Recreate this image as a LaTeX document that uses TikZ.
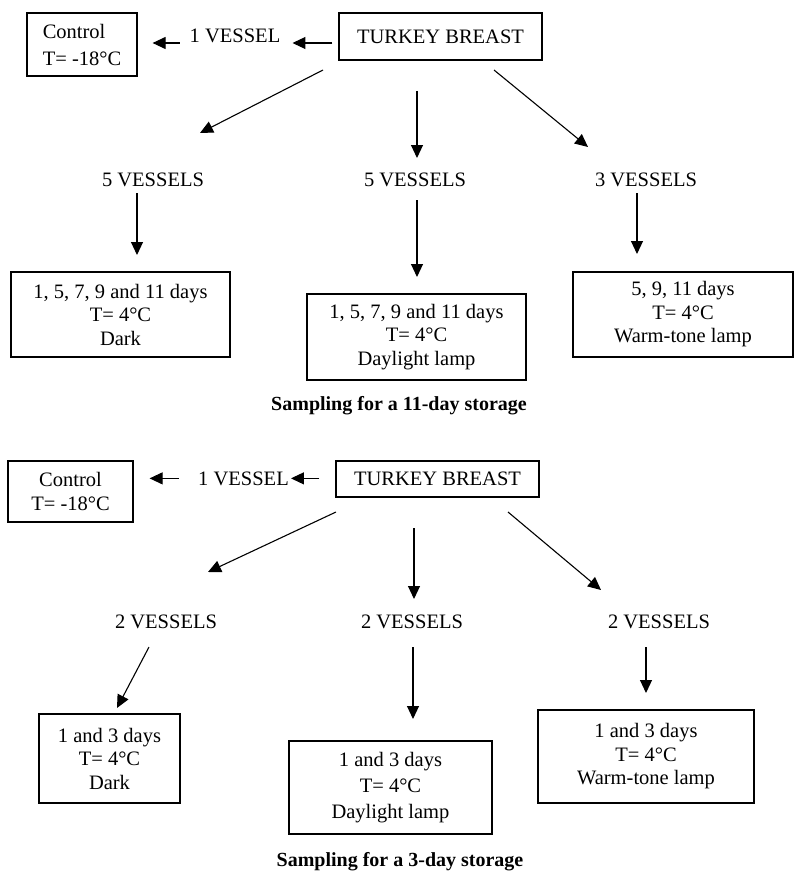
\documentclass[tikz,border=0pt]{standalone}
\usepackage{fontspec}
\setmainfont{Liberation Serif}
\usetikzlibrary{arrows.meta}
\usetikzlibrary{positioning}

\tikzset{
  box/.style = {draw, line width=1.2pt, align=center, inner sep=0pt},
  lbl/.style = {inner sep=0pt},
  arr/.style = {-{Triangle[length=13pt,width=12pt]}, line width=1.1pt},
  captxt/.style = {inner sep=0pt, font=\fontsize{20}{24}\bfseries\selectfont}
}

\begin{document}
\begin{tikzpicture}[x=1pt, y=-1pt, font=\fontsize{20.5}{23.5}\selectfont]
		\useasboundingbox (0,0) rectangle (796,880);
		% sampling for 11 days
		\node[box, minimum width=110pt, minimum height=63pt, align=left] (ctrlA) at (82,44.5) {Control\\[3.5pt]T= -18°C};
		\node[lbl, anchor=base] (vesA) at (235,43) {1 VESSEL};
		\node[box, minimum width=203pt, minimum height=47pt] (turkeyA) at (440.5,36.5) {TURKEY BREAST};
		\node[lbl] (vesA1) at (153,180) {5 VESSELS};
		\node[lbl] (vesA2) at (415,180) {5 VESSELS};
		\node[lbl] (vesA3) at (646,180) {3 VESSELS};
		\node[box, minimum width=219pt, minimum height=85pt] (boxA1) at (120.5,314.5) {1, 5, 7, 9 and 11 days\\T= 4°C\\Dark};
		\node[box, minimum width=219pt, minimum height=86pt] (boxA2) at (416.5,337) {1, 5, 7, 9 and 11 days\\T= 4°C\\Daylight lamp};
		\node[box, minimum width=220pt, minimum height=85pt] (boxA3) at (683,314.5) {5, 9, 11 days\\T= 4°C\\Warm-tone lamp};
		\node[captxt] (capA) at (399,406) {Sampling for a 11-day storage};
		\draw[arr, shorten <=6pt, shorten >=12pt] (turkeyA.west |- vesA.base) -- (vesA.base east);
		\draw[arr, shorten <=10pt, shorten >=15pt] (vesA.base west) -- (ctrlA.east |- vesA.base);
		\coordinate (sA1) at (323,70);  \coordinate (eA1) at (200,133);
		\coordinate (sA2) at (417,91);  \coordinate (eA2) at (417,158);
		\coordinate (sA3) at (494,70);  \coordinate (eA3) at (588,147);
		\coordinate (sA4) at (137,193); \coordinate (eA4) at (137,255);
		\coordinate (sA5) at (417,200); \coordinate (eA5) at (417,277);
		\coordinate (sA6) at (637,193); \coordinate (eA6) at (637,254);
		% sampling for 3 days
		\node[box, minimum width=125pt, minimum height=61pt] (ctrlB) at (70.5,491.5) {Control\\[0.5pt]T= -18°C};
		\node[lbl, anchor=base] (vesB) at (243.5,485) {1 VESSEL};
		\node[box, minimum width=203pt, minimum height=36pt] (turkeyB) at (437.5,479) {TURKEY BREAST};
		\node[lbl] (vesB1) at (166,622) {2 VESSELS};
		\node[lbl] (vesB2) at (412,622) {2 VESSELS};
		\node[lbl] (vesB3) at (659,622) {2 VESSELS};
		\node[box, minimum width=141pt, minimum height=89pt] (boxB1) at (109.5,758.5) {1 and 3 days\\T= 4°C\\Dark};
		\node[box, minimum width=203pt, minimum height=93pt] (boxB2) at (390.5,787.5) {1 and 3 days\\[2.5pt]T= 4°C\\[2.5pt]Daylight lamp};
		\node[box, minimum width=216pt, minimum height=93pt] (boxB3) at (646,756.5) {1 and 3 days\\T= 4°C\\Warm-tone lamp};
		\node[captxt] (capB) at (400,862) {Sampling for a 3-day storage};
		\draw[arr, shorten <=16pt, shorten >=2pt] (turkeyB.west |- vesB.east) -- (vesB.east);
		\draw[arr, shorten <=19pt, shorten >=16pt] (vesB.west) -- (ctrlB.east |- vesB.east);
		\coordinate (sB1) at (336,512); \coordinate (eB1) at (208,572);
		\coordinate (sB2) at (414,528); \coordinate (eB2) at (414,599);
		\coordinate (sB3) at (508,512); \coordinate (eB3) at (601,590);
		\coordinate (sB4) at (149,647); \coordinate (eB4) at (117,708);
		\coordinate (sB5) at (413,647); \coordinate (eB5) at (413,719);
		\coordinate (sB6) at (646,647); \coordinate (eB6) at (646,693);
		\foreach \h in {A,B}
		{
			\foreach \i in {1,...,6}
			{
				\draw[arr] (s\h\i) -- (e\h\i);
			}
		}
	\end{tikzpicture}
\end{document}
